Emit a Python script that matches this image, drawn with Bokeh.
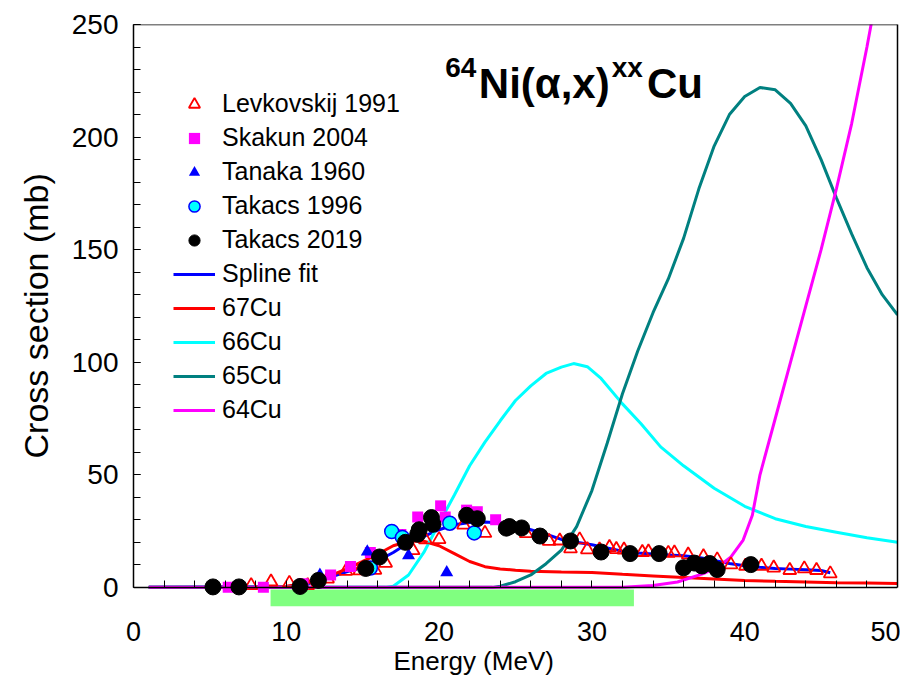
from bokeh.plotting import figure
from bokeh.models import (Range1d, SingleIntervalTicker, FixedTicker, Legend, LegendItem,
                          BoxAnnotation, Label, LinearAxis, Span, Title)
from bokeh.embed import file_html
from bokeh.resources import INLINE

# ---------------- data ----------------
lev_E = [7.7, 9.0, 10.2, 11.4, 12.7, 13.9, 14.8, 15.8, 16.5, 18.3, 19.1, 20.0, 21.6, 23.0, 25.7,
         27.2, 27.9, 28.6, 29.2, 29.7, 30.5, 31.15, 31.6, 32.1, 33.3, 33.7, 35.0, 35.4, 36.3,
         37.3, 38.2, 39.1, 40.05, 41.1, 41.9, 42.95, 43.9, 44.7, 45.6]
lev_S = [0.9, 2.5, 1.9, 0.9, 3.8, 7.2, 7.4, 7.7, 10.8, 16.4, 21.2, 21.3, 27.8, 24.1, 24.0,
         20.5, 20.7, 17.2, 21.2, 16.8, 16.7, 17.8, 16.9, 16.7, 15.6, 15.8, 15.2, 15.4, 14.5,
         13.7, 12.3, 10.1, 9.5, 9.5, 8.7, 7.6, 8.3, 7.6, 6.1]

ska_E = [6.2, 8.5, 11.1, 12.9, 14.2, 15.5, 17.5, 18.6, 20.1, 20.4, 21.8, 22.5, 23.7]
ska_S = [0.1, 0.1, 1.6, 5.5, 9.3, 15.5, 23.5, 31.2, 36.2, 31.3, 34.3, 33.6, 30.0]

tan_E = [12.2, 15.3, 18.0, 20.5]
tan_S = [5.5, 15.8, 14.2, 6.6]

t96_E = [15.5, 16.9, 17.6, 20.7, 22.3]
t96_S = [8.6, 24.8, 22.2, 28.5, 24.2]

t19_E = [5.2, 6.9, 10.9, 12.1, 15.2, 16.1, 17.8, 18.6, 18.7, 19.5, 19.6, 21.8, 22.5, 24.4,
         24.6, 25.4, 26.6, 28.6, 30.6, 32.5, 34.4, 36.0, 36.7, 37.2, 37.7, 38.2, 40.4]
t19_S = [0.2, 0.2, 0.4, 3.1, 8.4, 13.5, 20.0, 23.6, 25.6, 31.0, 28.0, 32.0, 30.5, 26.3,
         27.0, 26.4, 22.8, 20.6, 15.7, 15.0, 15.0, 8.7, 10.8, 9.5, 10.6, 7.9, 10.1]

spl_E = [1, 10, 11, 12, 13, 14, 15, 16, 17, 18, 19, 20, 21, 22, 23, 24, 25, 26, 27, 28, 29,
         30, 31, 32, 33, 34, 35, 36, 37, 38, 39, 40, 41, 42, 43, 44, 45, 45.6]
spl_S = [0, 0.3, 1.0, 2.5, 4.8, 7.0, 8.8, 11.8, 15.5, 19.8, 22.7, 25.6, 27.8, 28.8, 29.0,
         28.6, 27.5, 25.6, 23.6, 21.3, 20.0, 18.9, 17.5, 16.1, 15.3, 14.8, 14.4, 14.0, 13.3,
         12.0, 10.6, 9.6, 8.9, 8.4, 8.1, 7.8, 7.5, 6.5]

cu67_E = [1, 9, 10, 11, 12, 13, 14, 15, 16, 17, 18, 19, 20, 21, 22, 23, 24, 25, 26, 28, 30,
          32, 34, 36, 38, 40, 42, 44, 46, 48, 50]
cu67_S = [0, 0, 0.5, 1.5, 3.1, 5.5, 8.3, 11.5, 14.8, 18.5, 20.5, 20.5, 18.5, 15.0, 11.5, 9.2,
          8.2, 7.6, 7.2, 6.8, 6.6, 5.8, 5.1, 4.4, 3.7, 3.1, 2.7, 2.4, 2.1, 1.9, 1.7]

cu66_E = [1, 16.5, 17, 18, 19, 20, 21, 22, 23, 24, 25, 26, 27, 28, 28.8, 29.7, 30.6, 32, 33.2,
          34.5, 36, 37, 38, 40, 42, 44, 46, 48, 50]
cu66_S = [0, 0, 0.5, 5.5, 15.5, 28.5, 41, 54, 64.5, 74, 83, 89.5, 95, 97.8, 99.4, 98, 92.8,
          81.5, 72.8, 62.4, 54, 49, 44, 36, 30.5, 27, 24.5, 22, 20]

cu65_E = [1, 23.5, 24, 25, 26, 27, 28, 29, 30, 31, 32, 33, 34, 35, 36, 37, 38, 39, 40, 41,
          42, 43, 44, 45, 46, 47, 48, 49, 50]
cu65_S = [0, 0, 0.5, 2.5, 5.5, 10.5, 16.5, 27, 43, 64, 86, 105, 122, 137, 155, 177, 196,
          210, 218, 222, 221, 215, 205, 190, 173, 157, 142, 130, 121]

cu64_E = [1, 32, 34, 35.6, 37.3, 38.4, 39.1, 39.9, 40.5, 41, 42, 43, 44, 45, 46, 47, 48, 48.6]
cu64_S = [0, 0, 0.8, 2.4, 6.1, 9.8, 13.5, 21, 32, 50, 75, 100, 125, 150, 177, 206, 240, 262]

# beam energy range bar (MeV)
bar_E = [8.97, 32.75]

x_max = 50
y_max = 250
x_major = 10
x_minor = 2
y_major = 50

FONT = "Liberation Sans"

p = figure(width=900, height=685, x_range=Range1d(0, x_max), y_range=Range1d(-8.5, y_max),
           output_backend="svg", toolbar_location=None,
           min_border_left=133, min_border_right=3, min_border_top=24, min_border_bottom=79)
p.grid.visible = False
p.outline_line_color = None
p.background_fill_color = "white"

# left axis: only between 0 and 250
p.yaxis.ticker = SingleIntervalTicker(interval=y_major, num_minor_ticks=5)
p.yaxis.bounds = (0, y_max)
ya = p.yaxis[0]
ya.axis_line_color = "black"
ya.axis_line_width = 1.5
ya.major_tick_in = 7
ya.major_tick_out = 0
ya.minor_tick_in = 7
ya.minor_tick_out = 0
ya.major_tick_line_color = "black"
ya.minor_tick_line_color = "black"
ya.major_label_text_font = FONT
ya.major_label_text_font_size = "28px"
ya.major_label_text_color = "black"
ya.major_label_standoff = 15

# y axis title, placed like the reference (a little above centre)
p.add_layout(Title(text="Cross section (mb)", align="left", offset=148, standoff=27,
                   text_font=FONT, text_font_size="34px", text_font_style="normal",
                   text_color="black"), "left")

# bottom axis: tick labels only (placed below the energy bar)
xa = p.xaxis[0]
xa.ticker = SingleIntervalTicker(interval=x_major, num_minor_ticks=5)
xa.axis_line_color = None
xa.major_tick_in = 0
xa.major_tick_out = 0
xa.minor_tick_in = 0
xa.minor_tick_out = 0
xa.major_label_text_font = FONT
xa.major_label_text_font_size = "27px"
xa.major_label_text_color = "black"
xa.major_label_standoff = 15

# x axis title, placed like the reference (left of centre)
p.add_layout(Title(text="Energy (MeV)", align="left", offset=260, standoff=0,
                   text_font=FONT, text_font_size="26px", text_font_style="normal",
                   text_color="black"), "below")

# x axis line and ticks drawn at y = 0 (ticks pointing up, every 2 MeV)
x0_axis = LinearAxis(ticker=FixedTicker(ticks=[], minor_ticks=list(range(0, x_max + 1, x_minor))),
                     fixed_location=0, axis_line_color="black", axis_line_width=1.5,
                     major_tick_in=0, major_tick_out=7, minor_tick_in=0, minor_tick_out=7,
                     major_tick_line_color="black", minor_tick_line_color="black",
                     major_label_standoff=0)
p.add_layout(x0_axis, "above")

# right border between 0 and 250
r_axis = LinearAxis(ticker=FixedTicker(ticks=[]), bounds=(0, y_max), axis_line_color="black",
                    axis_line_width=1.5, major_tick_in=0, major_tick_out=0, minor_tick_in=0,
                    minor_tick_out=0, major_label_standoff=0)
p.add_layout(r_axis, "right")
# top border
p.add_layout(Span(location=y_max, dimension="width", line_color="black", line_width=1.5))

# green energy-range bar just below the axis
p.add_layout(BoxAnnotation(left=bar_E[0], right=bar_E[1], bottom=-8.5, top=-0.9,
                           fill_color="#80FF80", fill_alpha=1.0, line_alpha=0, level="underlay"))

LW = 3
r_spl = p.line(spl_E, spl_S, line_color="#0000FF", line_width=LW)
r_67 = p.line(cu67_E, cu67_S, line_color="#FF0000", line_width=LW)
r_66 = p.line(cu66_E, cu66_S, line_color="#00FFFF", line_width=LW)
r_65 = p.line(cu65_E, cu65_S, line_color="#008080", line_width=LW)
r_64 = p.line(cu64_E, cu64_S, line_color="#FF00FF", line_width=LW)

r_lev = p.scatter(lev_E, lev_S, marker="triangle", size=13, fill_color=None,
                  line_color="#FF0000", line_width=1.8)
r_ska = p.scatter(ska_E, ska_S, marker="square", size=11, fill_color="#FF00FF",
                  line_color=None)
r_tan = p.scatter(tan_E, tan_S, marker="triangle", size=13, fill_color="#0000FF",
                  line_color=None)
r_t96 = p.scatter(t96_E, t96_S, marker="circle", size=14, fill_color="#00FFFF",
                  line_color="#0000FF", line_width=1.5)
r_t19 = p.scatter(t19_E, t19_S, marker="circle", size=16, fill_color="black",
                  line_color="black")

legend = Legend(items=[
    LegendItem(label="Levkovskij 1991", renderers=[r_lev]),
    LegendItem(label="Skakun 2004", renderers=[r_ska]),
    LegendItem(label="Tanaka 1960", renderers=[r_tan]),
    LegendItem(label="Takacs 1996", renderers=[r_t96]),
    LegendItem(label="Takacs 2019", renderers=[r_t19]),
    LegendItem(label="Spline fit", renderers=[r_spl]),
    LegendItem(label="67Cu", renderers=[r_67]),
    LegendItem(label="66Cu", renderers=[r_66]),
    LegendItem(label="65Cu", renderers=[r_65]),
    LegendItem(label="64Cu", renderers=[r_64]),
], location=(40, 182))
legend.border_line_color = None
legend.background_fill_alpha = 0
legend.label_text_font = FONT
legend.label_text_font_size = "25px"
legend.label_text_color = "black"
legend.glyph_width = 42
legend.glyph_height = 28
legend.label_height = 28
legend.spacing = 5
legend.padding = 0
legend.margin = 0
legend.label_standoff = 7
p.add_layout(legend, "center")

# title 64Ni(alpha,x)xxCu built from pieces
title_parts = [
    ("64", 20.4, 231.0, "28px"),
    ("Ni(\u03b1,x)", 22.6, 224.0, "42px"),
    ("xx", 31.3, 231.0, "28px"),
    ("Cu", 33.6, 224.0, "42px"),
]
for txt, tx, ty, fs in title_parts:
    p.add_layout(Label(x=tx, y=ty, text=txt, text_font=FONT, text_font_size=fs,
                       text_font_style="bold", text_color="black",
                       text_baseline="alphabetic", text_align="left"))

open("out.html", "w").write(file_html(p, INLINE))
